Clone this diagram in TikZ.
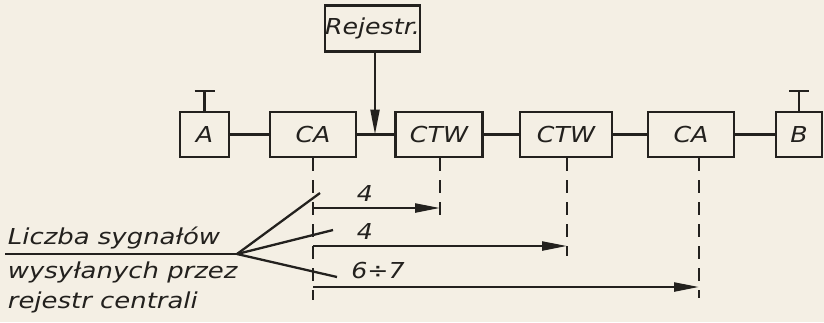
\documentclass[tikz,border=0pt]{standalone}
\usepackage{fontspec}
\setmainfont{DejaVu Sans}[FakeStretch=1.15]
\newfontfamily\legendfont{DejaVu Sans}[FakeStretch=1.18]
\usetikzlibrary{arrows.meta,positioning}
\definecolor{paper}{RGB}{244,239,228}
\definecolor{ink}{RGB}{35,33,30}

\begin{document}
\begin{tikzpicture}[
    x=0.02cm, y=-0.02cm,
    font=\fontsize{12.5}{14}\selectfont\itshape,
    color=ink,
    line width=1.3pt,
    box/.style={
        draw,
        line width=1.4pt,
        minimum height=0.9cm,
        inner sep=0pt
    },
    legend/.style={inner sep=1pt, font=\legendfont\fontsize{12.5}{14}\selectfont\itshape},
    arrow/.style={-{Triangle[length=5mm,width=1.8mm]}},
    dashline/.style={dash pattern=on 2.6mm off 1.8mm},
    antenna/.style={line cap=butt}
]
\useasboundingbox[fill=paper] (0,0) rectangle (824,322);

% chain of exchanges
\node[box, minimum width=0.98cm] (a) at (204.5,134.5) {A};
\node[box, minimum width=1.72cm] (ca1) at (313,134.5) {CA};
\node[box, minimum width=1.74cm] (ctw1) at (439,134.5) {CTW};
\node[box, minimum width=1.84cm] (ctw2) at (566,134.5) {CTW};
\node[box, minimum width=1.72cm] (ca2) at (691,134.5) {CA};
\node[box, minimum width=0.92cm] (b) at (799,134.5) {B};
\node[box, minimum width=1.9cm, minimum height=0.92cm] (rejestr) at (372.5,28.5) {Rejestr.};

\draw (a) -- (ca1);
\draw (ca1) -- (ctw1);
\draw (ctw1) -- (ctw2);
\draw (ctw2) -- (ca2);
\draw (ca2) -- (b);

\coordinate (tap) at (375,134.5);
\draw[arrow] (rejestr.south -| tap) -- (tap);

% subscriber sets
\draw[antenna] (a.north) -- ++(0,-20) ++(-10,0) -- ++(20,0);
\draw[antenna] (b.north) -- ++(0,-20) ++(-10,0) -- ++(20,0);

% dashed drops
\coordinate (d0) at (313,300);
\coordinate (d1) at (440,215);
\coordinate (d2) at (567,256);
\coordinate (d3) at (699,298);
\draw[dashline] (ca1.south) -- (d0);
\draw[dashline] (ctw1.south -| d1) -- (d1);
\draw[dashline] (ctw2.south -| d2) -- (d2);
\draw[dashline] (ca2.south -| d3) -- (d3);

% signal counts
\coordinate (s1) at (313,208);
\coordinate (s2) at (313,246);
\coordinate (s3) at (313,287);
\draw[arrow] (s1) -- (s1 -| d1);
\draw[arrow] (s2) -- (s2 -| d2);
\draw[arrow] (s3) -- (s3 -| d3);

\node (n1) at (365,193) {4};
\node (n2) at (365,231) {4};
\node (n3) at (378,270) {6÷7};

% legend
\node[legend, anchor=south west] (liczba) at (5,252) {Liczba sygnałów};
\node[legend, anchor=west] (wys) at (5,272) {wysyłanych przez};
\node[legend, anchor=west] (rej) at (5,302) {rejestr centrali};

\coordinate (fan) at (237,254);
\coordinate (f1) at (320,193);
\coordinate (f2) at (333,230);
\coordinate (f3) at (337,277);
\draw (liczba.south west |- fan) -- (fan);
\draw (fan) -- (f1);
\draw (fan) -- (f2);
\draw (fan) -- (f3);
\end{tikzpicture}
\end{document}
